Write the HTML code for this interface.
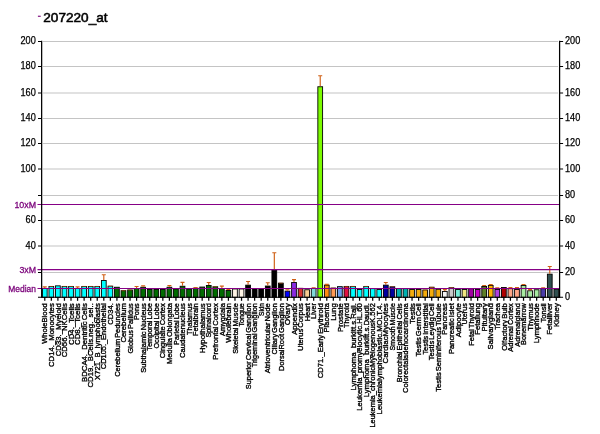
<!DOCTYPE html><html><head><meta charset="utf-8"><title>207220_at</title>
<style>html,body{margin:0;padding:0;background:#fff}body{width:600px;height:434px;overflow:hidden;font-family:"Liberation Sans",sans-serif}svg{display:block;will-change:transform}text{font-family:"Liberation Sans",sans-serif}</style></head><body>
<svg width="600" height="434" viewBox="0 0 600 434">
<rect width="600" height="434" fill="#fff"/>
<rect x="37.9" y="15.7" width="2.8" height="1.1" fill="#780078"/>
<text x="43.3" y="21.85" font-size="13.6" fill="#000" stroke="#000" stroke-width="0.55">207220_at</text>
<line x1="43.0" x2="558.0" y1="272.45" y2="272.45" stroke="#c4c4c4" stroke-width="1.05"/>
<line x1="43.0" x2="558.0" y1="246.00" y2="246.00" stroke="#c4c4c4" stroke-width="1.05"/>
<line x1="43.0" x2="558.0" y1="220.50" y2="220.50" stroke="#c4c4c4" stroke-width="1.05"/>
<line x1="43.0" x2="558.0" y1="195.45" y2="195.45" stroke="#c4c4c4" stroke-width="1.05"/>
<line x1="43.0" x2="558.0" y1="169.00" y2="169.00" stroke="#c4c4c4" stroke-width="1.05"/>
<line x1="43.0" x2="558.0" y1="143.45" y2="143.45" stroke="#c4c4c4" stroke-width="1.05"/>
<line x1="43.0" x2="558.0" y1="118.45" y2="118.45" stroke="#c4c4c4" stroke-width="1.05"/>
<line x1="43.0" x2="558.0" y1="93.00" y2="93.00" stroke="#c4c4c4" stroke-width="1.05"/>
<line x1="43.0" x2="558.0" y1="66.50" y2="66.50" stroke="#c4c4c4" stroke-width="1.05"/>
<line x1="43.0" x2="558.0" y1="41.50" y2="41.50" stroke="#c4c4c4" stroke-width="1.05"/>
<rect x="42.40" y="288.45" width="4.75" height="8.85" fill="#00ffff" stroke="#000" stroke-width="0.9"/>
<path d="M44.78 288.00V286.30M42.78 286.80H46.78" stroke="#cf5f14" stroke-width="1.15" fill="none"/>
<rect x="48.96" y="286.45" width="4.75" height="10.85" fill="#00ffff" stroke="#000" stroke-width="0.9"/>
<path d="M49.34 286.45H53.34" stroke="#cf5f14" stroke-width="1.1" fill="none" opacity="0.5"/>
<rect x="55.52" y="285.85" width="4.75" height="11.45" fill="#00ffff" stroke="#000" stroke-width="0.9"/>
<rect x="62.08" y="286.45" width="4.75" height="10.85" fill="#00ffff" stroke="#000" stroke-width="0.9"/>
<path d="M62.45 286.45H66.45" stroke="#cf5f14" stroke-width="1.1" fill="none" opacity="0.5"/>
<rect x="68.64" y="286.45" width="4.75" height="10.85" fill="#00ffff" stroke="#000" stroke-width="0.9"/>
<path d="M69.01 286.45H73.01" stroke="#cf5f14" stroke-width="1.1" fill="none" opacity="0.5"/>
<rect x="75.20" y="288.45" width="4.75" height="8.85" fill="#00ffff" stroke="#000" stroke-width="0.9"/>
<path d="M77.57 288.00V286.30M75.57 286.80H79.57" stroke="#cf5f14" stroke-width="1.15" fill="none"/>
<rect x="81.75" y="286.45" width="4.75" height="10.85" fill="#00ffff" stroke="#000" stroke-width="0.9"/>
<path d="M82.13 286.45H86.13" stroke="#cf5f14" stroke-width="1.1" fill="none" opacity="0.5"/>
<rect x="88.31" y="286.45" width="4.75" height="10.85" fill="#00ffff" stroke="#000" stroke-width="0.9"/>
<path d="M88.69 286.45H92.69" stroke="#cf5f14" stroke-width="1.1" fill="none" opacity="0.5"/>
<rect x="94.87" y="286.45" width="4.75" height="10.85" fill="#00ffff" stroke="#000" stroke-width="0.9"/>
<path d="M95.24 286.45H99.24" stroke="#cf5f14" stroke-width="1.1" fill="none" opacity="0.5"/>
<rect x="101.43" y="280.55" width="4.75" height="16.75" fill="#00ffff" stroke="#000" stroke-width="0.9"/>
<path d="M103.80 280.10V274.20M101.80 274.70H105.80" stroke="#cf5f14" stroke-width="1.15" fill="none"/>
<rect x="107.99" y="286.15" width="4.75" height="11.15" fill="#00ffff" stroke="#000" stroke-width="0.9"/>
<path d="M108.36 286.15H112.36" stroke="#cf5f14" stroke-width="1.1" fill="none" opacity="0.5"/>
<rect x="114.54" y="287.25" width="4.75" height="10.05" fill="#006c00" stroke="#000" stroke-width="0.9"/>
<rect x="121.10" y="290.65" width="4.75" height="6.65" fill="#006c00" stroke="#000" stroke-width="0.9"/>
<path d="M121.48 290.65H125.48" stroke="#cf5f14" stroke-width="1.1" fill="none" opacity="0.5"/>
<rect x="127.66" y="289.95" width="4.75" height="7.35" fill="#006c00" stroke="#000" stroke-width="0.9"/>
<path d="M128.04 289.95H132.04" stroke="#cf5f14" stroke-width="1.1" fill="none" opacity="0.5"/>
<rect x="134.22" y="288.55" width="4.75" height="8.75" fill="#006c00" stroke="#000" stroke-width="0.9"/>
<path d="M136.59 288.10V286.00M134.59 286.50H138.59" stroke="#cf5f14" stroke-width="1.15" fill="none"/>
<rect x="140.78" y="287.25" width="4.75" height="10.05" fill="#006c00" stroke="#000" stroke-width="0.9"/>
<path d="M143.15 286.80V285.30M141.15 285.80H145.15" stroke="#cf5f14" stroke-width="1.15" fill="none"/>
<rect x="147.34" y="289.55" width="4.75" height="7.75" fill="#006c00" stroke="#000" stroke-width="0.9"/>
<rect x="153.89" y="289.55" width="4.75" height="7.75" fill="#006c00" stroke="#000" stroke-width="0.9"/>
<rect x="160.45" y="289.55" width="4.75" height="7.75" fill="#006c00" stroke="#000" stroke-width="0.9"/>
<rect x="167.01" y="287.25" width="4.75" height="10.05" fill="#006c00" stroke="#000" stroke-width="0.9"/>
<path d="M169.39 286.80V285.10M167.39 285.60H171.39" stroke="#cf5f14" stroke-width="1.15" fill="none"/>
<rect x="173.57" y="288.95" width="4.75" height="8.35" fill="#006c00" stroke="#000" stroke-width="0.9"/>
<rect x="180.13" y="286.25" width="4.75" height="11.05" fill="#006c00" stroke="#000" stroke-width="0.9"/>
<path d="M182.50 285.80V281.90M180.50 282.40H184.50" stroke="#cf5f14" stroke-width="1.15" fill="none"/>
<rect x="186.69" y="288.95" width="4.75" height="8.35" fill="#006c00" stroke="#000" stroke-width="0.9"/>
<rect x="193.24" y="288.25" width="4.75" height="9.05" fill="#006c00" stroke="#000" stroke-width="0.9"/>
<path d="M195.62 287.80V287.00M193.62 287.50H197.62" stroke="#cf5f14" stroke-width="1.15" fill="none"/>
<rect x="199.80" y="287.05" width="4.75" height="10.25" fill="#006c00" stroke="#000" stroke-width="0.9"/>
<rect x="206.36" y="285.45" width="4.75" height="11.85" fill="#006c00" stroke="#000" stroke-width="0.9"/>
<path d="M208.73 285.00V282.00M206.73 282.50H210.73" stroke="#cf5f14" stroke-width="1.15" fill="none"/>
<rect x="212.92" y="286.75" width="4.75" height="10.55" fill="#006c00" stroke="#000" stroke-width="0.9"/>
<path d="M213.29 286.75H217.29" stroke="#cf5f14" stroke-width="1.1" fill="none" opacity="0.5"/>
<rect x="219.48" y="288.65" width="4.75" height="8.65" fill="#006c00" stroke="#000" stroke-width="0.9"/>
<path d="M221.85 288.20V285.60M219.85 286.10H223.85" stroke="#cf5f14" stroke-width="1.15" fill="none"/>
<rect x="226.03" y="290.45" width="4.75" height="6.85" fill="#006c00" stroke="#000" stroke-width="0.9"/>
<path d="M228.41 290.00V288.80M226.41 289.30H230.41" stroke="#cf5f14" stroke-width="1.15" fill="none"/>
<rect x="232.59" y="288.95" width="4.75" height="8.35" fill="#fff5e6" stroke="#000" stroke-width="0.9"/>
<rect x="239.15" y="288.95" width="4.75" height="8.35" fill="#fff5e6" stroke="#000" stroke-width="0.9"/>
<rect x="245.71" y="285.15" width="4.75" height="12.15" fill="#000000" stroke="#000" stroke-width="0.9"/>
<path d="M248.08 284.70V281.00M246.08 281.50H250.08" stroke="#cf5f14" stroke-width="1.15" fill="none"/>
<rect x="252.27" y="288.45" width="4.75" height="8.85" fill="#000000" stroke="#000" stroke-width="0.9"/>
<rect x="258.83" y="288.45" width="4.75" height="8.85" fill="#000000" stroke="#000" stroke-width="0.9"/>
<rect x="265.38" y="286.05" width="4.75" height="11.25" fill="#000000" stroke="#000" stroke-width="0.9"/>
<path d="M267.76 285.60V282.20M265.76 282.70H269.76" stroke="#cf5f14" stroke-width="1.15" fill="none"/>
<rect x="271.94" y="270.05" width="4.75" height="27.25" fill="#000000" stroke="#000" stroke-width="0.9"/>
<path d="M274.32 269.60V252.20M272.32 252.70H276.32" stroke="#cf5f14" stroke-width="1.15" fill="none"/>
<rect x="278.50" y="283.15" width="4.75" height="14.15" fill="#000000" stroke="#000" stroke-width="0.9"/>
<path d="M278.88 283.15H282.88" stroke="#cf5f14" stroke-width="1.1" fill="none" opacity="0.5"/>
<rect x="285.06" y="291.15" width="4.75" height="6.15" fill="#0000ff" stroke="#000" stroke-width="0.9"/>
<path d="M287.43 290.70V289.20M285.43 289.70H289.43" stroke="#cf5f14" stroke-width="1.15" fill="none"/>
<rect x="291.62" y="282.55" width="4.75" height="14.75" fill="#8a2be2" stroke="#000" stroke-width="0.9"/>
<path d="M293.99 282.10V279.10M291.99 279.60H295.99" stroke="#cf5f14" stroke-width="1.15" fill="none"/>
<rect x="298.18" y="288.35" width="4.75" height="8.95" fill="#d62f2f" stroke="#000" stroke-width="0.9"/>
<path d="M298.55 288.35H302.55" stroke="#cf5f14" stroke-width="1.1" fill="none" opacity="0.5"/>
<rect x="304.73" y="289.75" width="4.75" height="7.55" fill="#f7cc90" stroke="#000" stroke-width="0.9"/>
<rect x="311.29" y="288.45" width="4.75" height="8.85" fill="#80d8d8" stroke="#000" stroke-width="0.9"/>
<path d="M313.67 288.00V287.20M311.67 287.70H315.67" stroke="#cf5f14" stroke-width="1.15" fill="none"/>
<rect x="317.85" y="86.75" width="4.75" height="210.55" fill="#7cfc00" stroke="#000" stroke-width="0.9"/>
<path d="M320.22 86.30V75.20M318.22 75.70H322.22" stroke="#cf5f14" stroke-width="1.15" fill="none"/>
<rect x="324.41" y="285.15" width="4.75" height="12.15" fill="#ff8c10" stroke="#000" stroke-width="0.9"/>
<path d="M326.78 284.70V283.80M324.78 284.30H328.78" stroke="#cf5f14" stroke-width="1.15" fill="none"/>
<rect x="330.97" y="288.05" width="4.75" height="9.25" fill="#ff9a55" stroke="#000" stroke-width="0.9"/>
<path d="M331.34 288.05H335.34" stroke="#cf5f14" stroke-width="1.1" fill="none" opacity="0.5"/>
<rect x="337.52" y="286.65" width="4.75" height="10.65" fill="#6a9ef0" stroke="#000" stroke-width="0.9"/>
<rect x="344.08" y="286.45" width="4.75" height="10.85" fill="#e01040" stroke="#000" stroke-width="0.9"/>
<path d="M344.46 286.45H348.46" stroke="#cf5f14" stroke-width="1.1" fill="none" opacity="0.5"/>
<rect x="350.64" y="286.45" width="4.75" height="10.85" fill="#00ffff" stroke="#000" stroke-width="0.9"/>
<path d="M351.02 286.45H355.02" stroke="#cf5f14" stroke-width="1.1" fill="none" opacity="0.5"/>
<rect x="357.20" y="289.55" width="4.75" height="7.75" fill="#00ffff" stroke="#000" stroke-width="0.9"/>
<rect x="363.76" y="286.45" width="4.75" height="10.85" fill="#00ffff" stroke="#000" stroke-width="0.9"/>
<path d="M364.13 286.45H368.13" stroke="#cf5f14" stroke-width="1.1" fill="none" opacity="0.5"/>
<rect x="370.32" y="288.65" width="4.75" height="8.65" fill="#00ffff" stroke="#000" stroke-width="0.9"/>
<rect x="376.87" y="289.55" width="4.75" height="7.75" fill="#00ffff" stroke="#000" stroke-width="0.9"/>
<rect x="383.43" y="285.15" width="4.75" height="12.15" fill="#0000a0" stroke="#000" stroke-width="0.9"/>
<path d="M385.81 284.70V282.00M383.81 282.50H387.81" stroke="#cf5f14" stroke-width="1.15" fill="none"/>
<rect x="389.99" y="286.75" width="4.75" height="10.55" fill="#0000a0" stroke="#000" stroke-width="0.9"/>
<path d="M390.37 286.75H394.37" stroke="#cf5f14" stroke-width="1.1" fill="none" opacity="0.5"/>
<rect x="396.55" y="288.65" width="4.75" height="8.65" fill="#00b0b0" stroke="#000" stroke-width="0.9"/>
<rect x="403.11" y="288.65" width="4.75" height="8.65" fill="#00b0b0" stroke="#000" stroke-width="0.9"/>
<rect x="409.66" y="289.55" width="4.75" height="7.75" fill="#f4ac0c" stroke="#000" stroke-width="0.9"/>
<rect x="416.22" y="289.55" width="4.75" height="7.75" fill="#f4ac0c" stroke="#000" stroke-width="0.9"/>
<rect x="422.78" y="289.95" width="4.75" height="7.35" fill="#f4ac0c" stroke="#000" stroke-width="0.9"/>
<path d="M423.16 289.95H427.16" stroke="#cf5f14" stroke-width="1.1" fill="none" opacity="0.5"/>
<rect x="429.34" y="287.25" width="4.75" height="10.05" fill="#f4ac0c" stroke="#000" stroke-width="0.9"/>
<path d="M429.71 287.25H433.71" stroke="#cf5f14" stroke-width="1.1" fill="none" opacity="0.5"/>
<rect x="435.90" y="289.25" width="4.75" height="8.05" fill="#f4ac0c" stroke="#000" stroke-width="0.9"/>
<rect x="442.46" y="291.45" width="4.75" height="5.85" fill="#f4f4f4" stroke="#000" stroke-width="0.9"/>
<path d="M444.83 291.00V289.10M442.83 289.60H446.83" stroke="#cf5f14" stroke-width="1.15" fill="none"/>
<rect x="449.01" y="287.65" width="4.75" height="9.65" fill="#c8c8c8" stroke="#000" stroke-width="0.9"/>
<path d="M449.39 287.65H453.39" stroke="#cf5f14" stroke-width="1.1" fill="none" opacity="0.5"/>
<rect x="455.57" y="289.55" width="4.75" height="7.75" fill="#78eed8" stroke="#000" stroke-width="0.9"/>
<rect x="462.13" y="289.55" width="4.75" height="7.75" fill="#f0e680" stroke="#000" stroke-width="0.9"/>
<rect x="468.69" y="288.65" width="4.75" height="8.65" fill="#a000a0" stroke="#000" stroke-width="0.9"/>
<rect x="475.25" y="289.55" width="4.75" height="7.75" fill="#c800c8" stroke="#000" stroke-width="0.9"/>
<rect x="481.81" y="286.45" width="4.75" height="10.85" fill="#5d8028" stroke="#000" stroke-width="0.9"/>
<path d="M484.18 286.00V285.00M482.18 285.50H486.18" stroke="#cf5f14" stroke-width="1.15" fill="none"/>
<rect x="488.36" y="285.55" width="4.75" height="11.75" fill="#ffb400" stroke="#000" stroke-width="0.9"/>
<path d="M490.74 285.10V284.10M488.74 284.60H492.74" stroke="#cf5f14" stroke-width="1.15" fill="none"/>
<rect x="494.92" y="289.55" width="4.75" height="7.75" fill="#b040e0" stroke="#000" stroke-width="0.9"/>
<path d="M497.30 289.10V287.20M495.30 287.70H499.30" stroke="#cf5f14" stroke-width="1.15" fill="none"/>
<rect x="501.48" y="287.55" width="4.75" height="9.75" fill="#b00000" stroke="#000" stroke-width="0.9"/>
<rect x="508.04" y="288.65" width="4.75" height="8.65" fill="#ffa585" stroke="#000" stroke-width="0.9"/>
<path d="M510.41 288.20V287.10M508.41 287.60H512.41" stroke="#cf5f14" stroke-width="1.15" fill="none"/>
<rect x="514.60" y="289.55" width="4.75" height="7.75" fill="#ffa585" stroke="#000" stroke-width="0.9"/>
<path d="M516.97 289.10V287.10M514.97 287.60H518.97" stroke="#cf5f14" stroke-width="1.15" fill="none"/>
<rect x="521.15" y="285.45" width="4.75" height="11.85" fill="#a6eaa0" stroke="#000" stroke-width="0.9"/>
<path d="M523.53 285.00V284.00M521.53 284.50H525.53" stroke="#cf5f14" stroke-width="1.15" fill="none"/>
<rect x="527.71" y="290.75" width="4.75" height="6.55" fill="#a6eaa0" stroke="#000" stroke-width="0.9"/>
<path d="M530.09 290.30V289.10M528.09 289.60H532.09" stroke="#cf5f14" stroke-width="1.15" fill="none"/>
<rect x="534.27" y="289.75" width="4.75" height="7.55" fill="#a6eaa0" stroke="#000" stroke-width="0.9"/>
<rect x="540.83" y="288.65" width="4.75" height="8.65" fill="#4a3ca8" stroke="#000" stroke-width="0.9"/>
<path d="M543.20 288.20V287.20M541.20 287.70H545.20" stroke="#cf5f14" stroke-width="1.15" fill="none"/>
<rect x="547.39" y="274.15" width="4.75" height="23.15" fill="#2f4f4f" stroke="#000" stroke-width="0.9"/>
<path d="M549.76 273.70V266.00M547.76 266.50H551.76" stroke="#cf5f14" stroke-width="1.15" fill="none"/>
<rect x="553.95" y="289.25" width="4.75" height="8.05" fill="#2f4f4f" stroke="#000" stroke-width="0.9"/>
<line x1="37.5" x2="559.6" y1="288.45" y2="288.45" stroke="#860086" stroke-width="1.15"/>
<text x="36.0" y="291.55" font-size="9" fill="#7a007a" stroke="#7a007a" stroke-width="0.3" text-anchor="end" textLength="27.7" lengthAdjust="spacingAndGlyphs">Median</text>
<line x1="37.5" x2="559.6" y1="269.55" y2="269.55" stroke="#860086" stroke-width="1.15"/>
<text x="36.0" y="272.65" font-size="9" fill="#7a007a" stroke="#7a007a" stroke-width="0.3" text-anchor="end" textLength="16.6" lengthAdjust="spacingAndGlyphs">3xM</text>
<line x1="37.5" x2="559.6" y1="204.50" y2="204.50" stroke="#860086" stroke-width="1.15"/>
<text x="36.0" y="207.60" font-size="9" fill="#7a007a" stroke="#7a007a" stroke-width="0.3" text-anchor="end" textLength="21.6" lengthAdjust="spacingAndGlyphs">10xM</text>
<path d="M41.65 40.8V297.8M559.6 40.8V297.8" stroke="#000" stroke-width="1.25" fill="none"/>
<path d="M41.1 297.3H560.1" stroke="#000" stroke-width="1.05" fill="none"/>
<path d="M38.0 297.30H41.5M559.6 297.30H563.1" stroke="#000" stroke-width="1.1"/>
<text x="565" y="300.25" font-size="10.1" textLength="5.1" lengthAdjust="spacingAndGlyphs" stroke="#000" stroke-width="0.25">0</text>
<path d="M38.0 272.45H41.5M559.6 272.45H563.1" stroke="#000" stroke-width="1.1"/>
<text x="565" y="275.40" font-size="10.1" textLength="10.2" lengthAdjust="spacingAndGlyphs" stroke="#000" stroke-width="0.25">20</text>
<path d="M38.0 246.00H41.5M559.6 246.00H563.1" stroke="#000" stroke-width="1.1"/>
<text x="35.8" y="248.95" font-size="10.1" text-anchor="end" textLength="10.2" lengthAdjust="spacingAndGlyphs" stroke="#000" stroke-width="0.25">40</text>
<text x="565" y="248.95" font-size="10.1" textLength="10.2" lengthAdjust="spacingAndGlyphs" stroke="#000" stroke-width="0.25">40</text>
<path d="M38.0 220.50H41.5M559.6 220.50H563.1" stroke="#000" stroke-width="1.1"/>
<text x="35.8" y="223.45" font-size="10.1" text-anchor="end" textLength="10.2" lengthAdjust="spacingAndGlyphs" stroke="#000" stroke-width="0.25">60</text>
<text x="565" y="223.45" font-size="10.1" textLength="10.2" lengthAdjust="spacingAndGlyphs" stroke="#000" stroke-width="0.25">60</text>
<path d="M38.0 195.45H41.5M559.6 195.45H563.1" stroke="#000" stroke-width="1.1"/>
<text x="565" y="198.40" font-size="10.1" textLength="10.2" lengthAdjust="spacingAndGlyphs" stroke="#000" stroke-width="0.25">80</text>
<path d="M38.0 169.00H41.5M559.6 169.00H563.1" stroke="#000" stroke-width="1.1"/>
<text x="35.8" y="171.95" font-size="10.1" text-anchor="end" textLength="15.3" lengthAdjust="spacingAndGlyphs" stroke="#000" stroke-width="0.25">100</text>
<text x="565" y="171.95" font-size="10.1" textLength="15.3" lengthAdjust="spacingAndGlyphs" stroke="#000" stroke-width="0.25">100</text>
<path d="M38.0 143.45H41.5M559.6 143.45H563.1" stroke="#000" stroke-width="1.1"/>
<text x="35.8" y="146.40" font-size="10.1" text-anchor="end" textLength="15.3" lengthAdjust="spacingAndGlyphs" stroke="#000" stroke-width="0.25">120</text>
<text x="565" y="146.40" font-size="10.1" textLength="15.3" lengthAdjust="spacingAndGlyphs" stroke="#000" stroke-width="0.25">120</text>
<path d="M38.0 118.45H41.5M559.6 118.45H563.1" stroke="#000" stroke-width="1.1"/>
<text x="35.8" y="121.40" font-size="10.1" text-anchor="end" textLength="15.3" lengthAdjust="spacingAndGlyphs" stroke="#000" stroke-width="0.25">140</text>
<text x="565" y="121.40" font-size="10.1" textLength="15.3" lengthAdjust="spacingAndGlyphs" stroke="#000" stroke-width="0.25">140</text>
<path d="M38.0 93.00H41.5M559.6 93.00H563.1" stroke="#000" stroke-width="1.1"/>
<text x="35.8" y="95.95" font-size="10.1" text-anchor="end" textLength="15.3" lengthAdjust="spacingAndGlyphs" stroke="#000" stroke-width="0.25">160</text>
<text x="565" y="95.95" font-size="10.1" textLength="15.3" lengthAdjust="spacingAndGlyphs" stroke="#000" stroke-width="0.25">160</text>
<path d="M38.0 66.50H41.5M559.6 66.50H563.1" stroke="#000" stroke-width="1.1"/>
<text x="35.8" y="69.45" font-size="10.1" text-anchor="end" textLength="15.3" lengthAdjust="spacingAndGlyphs" stroke="#000" stroke-width="0.25">180</text>
<text x="565" y="69.45" font-size="10.1" textLength="15.3" lengthAdjust="spacingAndGlyphs" stroke="#000" stroke-width="0.25">180</text>
<path d="M38.0 41.50H41.5M559.6 41.50H563.1" stroke="#000" stroke-width="1.1"/>
<text x="35.8" y="44.45" font-size="10.1" text-anchor="end" textLength="15.3" lengthAdjust="spacingAndGlyphs" stroke="#000" stroke-width="0.25">200</text>
<text x="565" y="44.45" font-size="10.1" textLength="15.3" lengthAdjust="spacingAndGlyphs" stroke="#000" stroke-width="0.25">200</text>
<line x1="44.78" x2="44.78" y1="297.3" y2="300.8" stroke="#000" stroke-width="1.25"/>
<text transform="translate(47.43 303.2) rotate(-90)" font-size="7.9" word-spacing="-1.1" text-anchor="end" textLength="40.6" lengthAdjust="spacingAndGlyphs" stroke="#000" stroke-width="0.35">WholeBlood</text>
<line x1="51.34" x2="51.34" y1="297.3" y2="300.8" stroke="#000" stroke-width="1.25"/>
<text transform="translate(53.99 303.2) rotate(-90)" font-size="7.9" word-spacing="-1.1" text-anchor="end" textLength="63.8" lengthAdjust="spacingAndGlyphs" stroke="#000" stroke-width="0.35">CD14._Monocytes</text>
<line x1="57.90" x2="57.90" y1="297.3" y2="300.8" stroke="#000" stroke-width="1.25"/>
<text transform="translate(60.55 303.2) rotate(-90)" font-size="7.9" word-spacing="-1.1" text-anchor="end" textLength="53.1" lengthAdjust="spacingAndGlyphs" stroke="#000" stroke-width="0.35">CD33._Myeloid</text>
<line x1="64.45" x2="64.45" y1="297.3" y2="300.8" stroke="#000" stroke-width="1.25"/>
<text transform="translate(67.10 303.2) rotate(-90)" font-size="7.9" word-spacing="-1.1" text-anchor="end" textLength="54.1" lengthAdjust="spacingAndGlyphs" stroke="#000" stroke-width="0.35">CD56._NKCells</text>
<line x1="71.01" x2="71.01" y1="297.3" y2="300.8" stroke="#000" stroke-width="1.25"/>
<text transform="translate(73.66 303.2) rotate(-90)" font-size="7.9" word-spacing="-1.1" text-anchor="end" textLength="41.8" lengthAdjust="spacingAndGlyphs" stroke="#000" stroke-width="0.35">CD4._Tcells</text>
<line x1="77.57" x2="77.57" y1="297.3" y2="300.8" stroke="#000" stroke-width="1.25"/>
<text transform="translate(80.22 303.2) rotate(-90)" font-size="7.9" word-spacing="-1.1" text-anchor="end" textLength="41.8" lengthAdjust="spacingAndGlyphs" stroke="#000" stroke-width="0.35">CD8._Tcells</text>
<line x1="84.13" x2="84.13" y1="297.3" y2="300.8" stroke="#000" stroke-width="1.25"/>
<text transform="translate(86.78 303.2) rotate(-90)" font-size="7.9" word-spacing="-1.1" text-anchor="end" textLength="78.7" lengthAdjust="spacingAndGlyphs" stroke="#000" stroke-width="0.35">BDCA4._Dentritic Cells</text>
<line x1="90.69" x2="90.69" y1="297.3" y2="300.8" stroke="#000" stroke-width="1.25"/>
<text transform="translate(93.34 303.2) rotate(-90)" font-size="7.9" word-spacing="-1.1" text-anchor="end" textLength="84.3" lengthAdjust="spacingAndGlyphs" stroke="#000" stroke-width="0.35">CD19._BCells.neg._sel..</text>
<line x1="97.24" x2="97.24" y1="297.3" y2="300.8" stroke="#000" stroke-width="1.25"/>
<text transform="translate(99.89 303.2) rotate(-90)" font-size="7.9" word-spacing="-1.1" text-anchor="end" textLength="76.7" lengthAdjust="spacingAndGlyphs" stroke="#000" stroke-width="0.35">X721_B_lymphoblasts</text>
<line x1="103.80" x2="103.80" y1="297.3" y2="300.8" stroke="#000" stroke-width="1.25"/>
<text transform="translate(106.45 303.2) rotate(-90)" font-size="7.9" word-spacing="-1.1" text-anchor="end" textLength="66.0" lengthAdjust="spacingAndGlyphs" stroke="#000" stroke-width="0.35">CD105._Endothelial</text>
<line x1="110.36" x2="110.36" y1="297.3" y2="300.8" stroke="#000" stroke-width="1.25"/>
<text transform="translate(113.01 303.2) rotate(-90)" font-size="7.9" word-spacing="-1.1" text-anchor="end" textLength="21.5" lengthAdjust="spacingAndGlyphs" stroke="#000" stroke-width="0.35">CD34.</text>
<line x1="116.92" x2="116.92" y1="297.3" y2="300.8" stroke="#000" stroke-width="1.25"/>
<text transform="translate(119.57 303.2) rotate(-90)" font-size="7.9" word-spacing="-1.1" text-anchor="end" textLength="73.6" lengthAdjust="spacingAndGlyphs" stroke="#000" stroke-width="0.35">Cerebellum Peduncles</text>
<line x1="123.48" x2="123.48" y1="297.3" y2="300.8" stroke="#000" stroke-width="1.25"/>
<text transform="translate(126.13 303.2) rotate(-90)" font-size="7.9" word-spacing="-1.1" text-anchor="end" textLength="39.4" lengthAdjust="spacingAndGlyphs" stroke="#000" stroke-width="0.35">Cerebellum</text>
<line x1="130.04" x2="130.04" y1="297.3" y2="300.8" stroke="#000" stroke-width="1.25"/>
<text transform="translate(132.69 303.2) rotate(-90)" font-size="7.9" word-spacing="-1.1" text-anchor="end" textLength="50.2" lengthAdjust="spacingAndGlyphs" stroke="#000" stroke-width="0.35">Globus Pallidus</text>
<line x1="136.59" x2="136.59" y1="297.3" y2="300.8" stroke="#000" stroke-width="1.25"/>
<text transform="translate(139.24 303.2) rotate(-90)" font-size="7.9" word-spacing="-1.1" text-anchor="end" textLength="16.9" lengthAdjust="spacingAndGlyphs" stroke="#000" stroke-width="0.35">Pons</text>
<line x1="143.15" x2="143.15" y1="297.3" y2="300.8" stroke="#000" stroke-width="1.25"/>
<text transform="translate(145.80 303.2) rotate(-90)" font-size="7.9" word-spacing="-1.1" text-anchor="end" textLength="69.6" lengthAdjust="spacingAndGlyphs" stroke="#000" stroke-width="0.35">Subthalamic Nucleus</text>
<line x1="149.71" x2="149.71" y1="297.3" y2="300.8" stroke="#000" stroke-width="1.25"/>
<text transform="translate(152.36 303.2) rotate(-90)" font-size="7.9" word-spacing="-1.1" text-anchor="end" textLength="47.5" lengthAdjust="spacingAndGlyphs" stroke="#000" stroke-width="0.35">Temporal Lobe</text>
<line x1="156.27" x2="156.27" y1="297.3" y2="300.8" stroke="#000" stroke-width="1.25"/>
<text transform="translate(158.92 303.2) rotate(-90)" font-size="7.9" word-spacing="-1.1" text-anchor="end" textLength="45.4" lengthAdjust="spacingAndGlyphs" stroke="#000" stroke-width="0.35">Occipital Lobe</text>
<line x1="162.83" x2="162.83" y1="297.3" y2="300.8" stroke="#000" stroke-width="1.25"/>
<text transform="translate(165.48 303.2) rotate(-90)" font-size="7.9" word-spacing="-1.1" text-anchor="end" textLength="55.0" lengthAdjust="spacingAndGlyphs" stroke="#000" stroke-width="0.35">Cingulate Cortex</text>
<line x1="169.39" x2="169.39" y1="297.3" y2="300.8" stroke="#000" stroke-width="1.25"/>
<text transform="translate(172.04 303.2) rotate(-90)" font-size="7.9" word-spacing="-1.1" text-anchor="end" textLength="60.7" lengthAdjust="spacingAndGlyphs" stroke="#000" stroke-width="0.35">Medulla Oblongata</text>
<line x1="175.94" x2="175.94" y1="297.3" y2="300.8" stroke="#000" stroke-width="1.25"/>
<text transform="translate(178.59 303.2) rotate(-90)" font-size="7.9" word-spacing="-1.1" text-anchor="end" textLength="41.7" lengthAdjust="spacingAndGlyphs" stroke="#000" stroke-width="0.35">Parietal Lobe</text>
<line x1="182.50" x2="182.50" y1="297.3" y2="300.8" stroke="#000" stroke-width="1.25"/>
<text transform="translate(185.15 303.2) rotate(-90)" font-size="7.9" word-spacing="-1.1" text-anchor="end" textLength="54.8" lengthAdjust="spacingAndGlyphs" stroke="#000" stroke-width="0.35">Caudatenucleus</text>
<line x1="189.06" x2="189.06" y1="297.3" y2="300.8" stroke="#000" stroke-width="1.25"/>
<text transform="translate(191.71 303.2) rotate(-90)" font-size="7.9" word-spacing="-1.1" text-anchor="end" textLength="31.8" lengthAdjust="spacingAndGlyphs" stroke="#000" stroke-width="0.35">Thalamus</text>
<line x1="195.62" x2="195.62" y1="297.3" y2="300.8" stroke="#000" stroke-width="1.25"/>
<text transform="translate(198.27 303.2) rotate(-90)" font-size="7.9" word-spacing="-1.1" text-anchor="end" textLength="32.8" lengthAdjust="spacingAndGlyphs" stroke="#000" stroke-width="0.35">Fetalbrain</text>
<line x1="202.18" x2="202.18" y1="297.3" y2="300.8" stroke="#000" stroke-width="1.25"/>
<text transform="translate(204.83 303.2) rotate(-90)" font-size="7.9" word-spacing="-1.1" text-anchor="end" textLength="50.0" lengthAdjust="spacingAndGlyphs" stroke="#000" stroke-width="0.35">Hypothalamus</text>
<line x1="208.73" x2="208.73" y1="297.3" y2="300.8" stroke="#000" stroke-width="1.25"/>
<text transform="translate(211.38 303.2) rotate(-90)" font-size="7.9" word-spacing="-1.1" text-anchor="end" textLength="34.4" lengthAdjust="spacingAndGlyphs" stroke="#000" stroke-width="0.35">Spinalcord</text>
<line x1="215.29" x2="215.29" y1="297.3" y2="300.8" stroke="#000" stroke-width="1.25"/>
<text transform="translate(217.94 303.2) rotate(-90)" font-size="7.9" word-spacing="-1.1" text-anchor="end" textLength="56.5" lengthAdjust="spacingAndGlyphs" stroke="#000" stroke-width="0.35">Prefrontal Cortex</text>
<line x1="221.85" x2="221.85" y1="297.3" y2="300.8" stroke="#000" stroke-width="1.25"/>
<text transform="translate(224.50 303.2) rotate(-90)" font-size="7.9" word-spacing="-1.1" text-anchor="end" textLength="32.8" lengthAdjust="spacingAndGlyphs" stroke="#000" stroke-width="0.35">Amygdala</text>
<line x1="228.41" x2="228.41" y1="297.3" y2="300.8" stroke="#000" stroke-width="1.25"/>
<text transform="translate(231.06 303.2) rotate(-90)" font-size="7.9" word-spacing="-1.1" text-anchor="end" textLength="39.6" lengthAdjust="spacingAndGlyphs" stroke="#000" stroke-width="0.35">Wholebrain</text>
<line x1="234.97" x2="234.97" y1="297.3" y2="300.8" stroke="#000" stroke-width="1.25"/>
<text transform="translate(237.62 303.2) rotate(-90)" font-size="7.9" word-spacing="-1.1" text-anchor="end" textLength="50.5" lengthAdjust="spacingAndGlyphs" stroke="#000" stroke-width="0.35">Skeletal Muscle</text>
<line x1="241.53" x2="241.53" y1="297.3" y2="300.8" stroke="#000" stroke-width="1.25"/>
<text transform="translate(244.18 303.2) rotate(-90)" font-size="7.9" word-spacing="-1.1" text-anchor="end" textLength="23.4" lengthAdjust="spacingAndGlyphs" stroke="#000" stroke-width="0.35">Tongue</text>
<line x1="248.08" x2="248.08" y1="297.3" y2="300.8" stroke="#000" stroke-width="1.25"/>
<text transform="translate(250.73 303.2) rotate(-90)" font-size="7.9" word-spacing="-1.1" text-anchor="end" textLength="86.0" lengthAdjust="spacingAndGlyphs" stroke="#000" stroke-width="0.35">Superior Cervical Ganglion</text>
<line x1="254.64" x2="254.64" y1="297.3" y2="300.8" stroke="#000" stroke-width="1.25"/>
<text transform="translate(257.29 303.2) rotate(-90)" font-size="7.9" word-spacing="-1.1" text-anchor="end" textLength="64.1" lengthAdjust="spacingAndGlyphs" stroke="#000" stroke-width="0.35">Trigeminal Ganglion</text>
<line x1="261.20" x2="261.20" y1="297.3" y2="300.8" stroke="#000" stroke-width="1.25"/>
<text transform="translate(263.85 303.2) rotate(-90)" font-size="7.9" word-spacing="-1.1" text-anchor="end" textLength="12.7" lengthAdjust="spacingAndGlyphs" stroke="#000" stroke-width="0.35">Skin</text>
<line x1="267.76" x2="267.76" y1="297.3" y2="300.8" stroke="#000" stroke-width="1.25"/>
<text transform="translate(270.41 303.2) rotate(-90)" font-size="7.9" word-spacing="-1.1" text-anchor="end" textLength="70.1" lengthAdjust="spacingAndGlyphs" stroke="#000" stroke-width="0.35">Atrioventricular Node</text>
<line x1="274.32" x2="274.32" y1="297.3" y2="300.8" stroke="#000" stroke-width="1.25"/>
<text transform="translate(276.97 303.2) rotate(-90)" font-size="7.9" word-spacing="-1.1" text-anchor="end" textLength="51.3" lengthAdjust="spacingAndGlyphs" stroke="#000" stroke-width="0.35">Ciliary Ganglion</text>
<line x1="280.88" x2="280.88" y1="297.3" y2="300.8" stroke="#000" stroke-width="1.25"/>
<text transform="translate(283.53 303.2) rotate(-90)" font-size="7.9" word-spacing="-1.1" text-anchor="end" textLength="67.8" lengthAdjust="spacingAndGlyphs" stroke="#000" stroke-width="0.35">DorsalRoot Ganglion</text>
<line x1="287.43" x2="287.43" y1="297.3" y2="300.8" stroke="#000" stroke-width="1.25"/>
<text transform="translate(290.08 303.2) rotate(-90)" font-size="7.9" word-spacing="-1.1" text-anchor="end" textLength="22.0" lengthAdjust="spacingAndGlyphs" stroke="#000" stroke-width="0.35">Ovary</text>
<line x1="293.99" x2="293.99" y1="297.3" y2="300.8" stroke="#000" stroke-width="1.25"/>
<text transform="translate(296.64 303.2) rotate(-90)" font-size="7.9" word-spacing="-1.1" text-anchor="end" textLength="31.5" lengthAdjust="spacingAndGlyphs" stroke="#000" stroke-width="0.35">Appendix</text>
<line x1="300.55" x2="300.55" y1="297.3" y2="300.8" stroke="#000" stroke-width="1.25"/>
<text transform="translate(303.20 303.2) rotate(-90)" font-size="7.9" word-spacing="-1.1" text-anchor="end" textLength="47.8" lengthAdjust="spacingAndGlyphs" stroke="#000" stroke-width="0.35">Uterus Corpus</text>
<line x1="307.11" x2="307.11" y1="297.3" y2="300.8" stroke="#000" stroke-width="1.25"/>
<text transform="translate(309.76 303.2) rotate(-90)" font-size="7.9" word-spacing="-1.1" text-anchor="end" textLength="18.1" lengthAdjust="spacingAndGlyphs" stroke="#000" stroke-width="0.35">Heart</text>
<line x1="313.67" x2="313.67" y1="297.3" y2="300.8" stroke="#000" stroke-width="1.25"/>
<text transform="translate(316.32 303.2) rotate(-90)" font-size="7.9" word-spacing="-1.1" text-anchor="end" textLength="15.7" lengthAdjust="spacingAndGlyphs" stroke="#000" stroke-width="0.35">Liver</text>
<line x1="320.22" x2="320.22" y1="297.3" y2="300.8" stroke="#000" stroke-width="1.25"/>
<text transform="translate(322.87 303.2) rotate(-90)" font-size="7.9" word-spacing="-1.1" text-anchor="end" textLength="75.1" lengthAdjust="spacingAndGlyphs" stroke="#000" stroke-width="0.35">CD71._Early Erythroid</text>
<line x1="326.78" x2="326.78" y1="297.3" y2="300.8" stroke="#000" stroke-width="1.25"/>
<text transform="translate(329.43 303.2) rotate(-90)" font-size="7.9" word-spacing="-1.1" text-anchor="end" textLength="29.2" lengthAdjust="spacingAndGlyphs" stroke="#000" stroke-width="0.35">Placenta</text>
<line x1="333.34" x2="333.34" y1="297.3" y2="300.8" stroke="#000" stroke-width="1.25"/>
<text transform="translate(335.99 303.2) rotate(-90)" font-size="7.9" word-spacing="-1.1" text-anchor="end" textLength="17.6" lengthAdjust="spacingAndGlyphs" stroke="#000" stroke-width="0.35">Lung</text>
<line x1="339.90" x2="339.90" y1="297.3" y2="300.8" stroke="#000" stroke-width="1.25"/>
<text transform="translate(342.55 303.2) rotate(-90)" font-size="7.9" word-spacing="-1.1" text-anchor="end" textLength="28.7" lengthAdjust="spacingAndGlyphs" stroke="#000" stroke-width="0.35">Prostate</text>
<line x1="346.46" x2="346.46" y1="297.3" y2="300.8" stroke="#000" stroke-width="1.25"/>
<text transform="translate(349.11 303.2) rotate(-90)" font-size="7.9" word-spacing="-1.1" text-anchor="end" textLength="24.8" lengthAdjust="spacingAndGlyphs" stroke="#000" stroke-width="0.35">Thyroid</text>
<line x1="353.02" x2="353.02" y1="297.3" y2="300.8" stroke="#000" stroke-width="1.25"/>
<text transform="translate(355.67 303.2) rotate(-90)" font-size="7.9" word-spacing="-1.1" text-anchor="end" textLength="87.3" lengthAdjust="spacingAndGlyphs" stroke="#000" stroke-width="0.35">Lymphoma_burkitt.s.Raji.</text>
<line x1="359.57" x2="359.57" y1="297.3" y2="300.8" stroke="#000" stroke-width="1.25"/>
<text transform="translate(362.22 303.2) rotate(-90)" font-size="7.9" word-spacing="-1.1" text-anchor="end" textLength="107.6" lengthAdjust="spacingAndGlyphs" stroke="#000" stroke-width="0.35">Leukemia_promyelocytic.HL.60</text>
<line x1="366.13" x2="366.13" y1="297.3" y2="300.8" stroke="#000" stroke-width="1.25"/>
<text transform="translate(368.78 303.2) rotate(-90)" font-size="7.9" word-spacing="-1.1" text-anchor="end" textLength="94.0" lengthAdjust="spacingAndGlyphs" stroke="#000" stroke-width="0.35">Lymphoma_burkitt.s.Daudi.</text>
<line x1="372.69" x2="372.69" y1="297.3" y2="300.8" stroke="#000" stroke-width="1.25"/>
<text transform="translate(375.34 303.2) rotate(-90)" font-size="7.9" word-spacing="-1.1" text-anchor="end" textLength="124.4" lengthAdjust="spacingAndGlyphs" stroke="#000" stroke-width="0.35">Leukemia_chronicMyelogenousK.562</text>
<line x1="379.25" x2="379.25" y1="297.3" y2="300.8" stroke="#000" stroke-width="1.25"/>
<text transform="translate(381.90 303.2) rotate(-90)" font-size="7.9" word-spacing="-1.1" text-anchor="end" textLength="111.2" lengthAdjust="spacingAndGlyphs" stroke="#000" stroke-width="0.35">Leukemialymphoblastic.MOLT.4.</text>
<line x1="385.81" x2="385.81" y1="297.3" y2="300.8" stroke="#000" stroke-width="1.25"/>
<text transform="translate(388.46 303.2) rotate(-90)" font-size="7.9" word-spacing="-1.1" text-anchor="end" textLength="60.3" lengthAdjust="spacingAndGlyphs" stroke="#000" stroke-width="0.35">CardiacMyocytes</text>
<line x1="392.37" x2="392.37" y1="297.3" y2="300.8" stroke="#000" stroke-width="1.25"/>
<text transform="translate(395.02 303.2) rotate(-90)" font-size="7.9" word-spacing="-1.1" text-anchor="end" textLength="47.3" lengthAdjust="spacingAndGlyphs" stroke="#000" stroke-width="0.35">Smooth Muscle</text>
<line x1="398.92" x2="398.92" y1="297.3" y2="300.8" stroke="#000" stroke-width="1.25"/>
<text transform="translate(401.57 303.2) rotate(-90)" font-size="7.9" word-spacing="-1.1" text-anchor="end" textLength="79.0" lengthAdjust="spacingAndGlyphs" stroke="#000" stroke-width="0.35">Bronchial Epithelial Cells</text>
<line x1="405.48" x2="405.48" y1="297.3" y2="300.8" stroke="#000" stroke-width="1.25"/>
<text transform="translate(408.13 303.2) rotate(-90)" font-size="7.9" word-spacing="-1.1" text-anchor="end" textLength="89.7" lengthAdjust="spacingAndGlyphs" stroke="#000" stroke-width="0.35">Colorectaladenocarcinoma</text>
<line x1="412.04" x2="412.04" y1="297.3" y2="300.8" stroke="#000" stroke-width="1.25"/>
<text transform="translate(414.69 303.2) rotate(-90)" font-size="7.9" word-spacing="-1.1" text-anchor="end" textLength="20.7" lengthAdjust="spacingAndGlyphs" stroke="#000" stroke-width="0.35">Testis</text>
<line x1="418.60" x2="418.60" y1="297.3" y2="300.8" stroke="#000" stroke-width="1.25"/>
<text transform="translate(421.25 303.2) rotate(-90)" font-size="7.9" word-spacing="-1.1" text-anchor="end" textLength="53.3" lengthAdjust="spacingAndGlyphs" stroke="#000" stroke-width="0.35">Testis Germ Cell</text>
<line x1="425.16" x2="425.16" y1="297.3" y2="300.8" stroke="#000" stroke-width="1.25"/>
<text transform="translate(427.81 303.2) rotate(-90)" font-size="7.9" word-spacing="-1.1" text-anchor="end" textLength="51.4" lengthAdjust="spacingAndGlyphs" stroke="#000" stroke-width="0.35">Testis Interstitial</text>
<line x1="431.71" x2="431.71" y1="297.3" y2="300.8" stroke="#000" stroke-width="1.25"/>
<text transform="translate(434.36 303.2) rotate(-90)" font-size="7.9" word-spacing="-1.1" text-anchor="end" textLength="57.0" lengthAdjust="spacingAndGlyphs" stroke="#000" stroke-width="0.35">Testis Leydig Cell</text>
<line x1="438.27" x2="438.27" y1="297.3" y2="300.8" stroke="#000" stroke-width="1.25"/>
<text transform="translate(440.92 303.2) rotate(-90)" font-size="7.9" word-spacing="-1.1" text-anchor="end" textLength="88.5" lengthAdjust="spacingAndGlyphs" stroke="#000" stroke-width="0.35">Testis Seminiferous Tubule</text>
<line x1="444.83" x2="444.83" y1="297.3" y2="300.8" stroke="#000" stroke-width="1.25"/>
<text transform="translate(447.48 303.2) rotate(-90)" font-size="7.9" word-spacing="-1.1" text-anchor="end" textLength="31.6" lengthAdjust="spacingAndGlyphs" stroke="#000" stroke-width="0.35">Pancreas</text>
<line x1="451.39" x2="451.39" y1="297.3" y2="300.8" stroke="#000" stroke-width="1.25"/>
<text transform="translate(454.04 303.2) rotate(-90)" font-size="7.9" word-spacing="-1.1" text-anchor="end" textLength="50.9" lengthAdjust="spacingAndGlyphs" stroke="#000" stroke-width="0.35">Pancreatic Islet</text>
<line x1="457.95" x2="457.95" y1="297.3" y2="300.8" stroke="#000" stroke-width="1.25"/>
<text transform="translate(460.60 303.2) rotate(-90)" font-size="7.9" word-spacing="-1.1" text-anchor="end" textLength="34.0" lengthAdjust="spacingAndGlyphs" stroke="#000" stroke-width="0.35">Adipocyte</text>
<line x1="464.51" x2="464.51" y1="297.3" y2="300.8" stroke="#000" stroke-width="1.25"/>
<text transform="translate(467.16 303.2) rotate(-90)" font-size="7.9" word-spacing="-1.1" text-anchor="end" textLength="21.4" lengthAdjust="spacingAndGlyphs" stroke="#000" stroke-width="0.35">Uterus</text>
<line x1="471.06" x2="471.06" y1="297.3" y2="300.8" stroke="#000" stroke-width="1.25"/>
<text transform="translate(473.71 303.2) rotate(-90)" font-size="7.9" word-spacing="-1.1" text-anchor="end" textLength="42.5" lengthAdjust="spacingAndGlyphs" stroke="#000" stroke-width="0.35">Fetal Thyroid</text>
<line x1="477.62" x2="477.62" y1="297.3" y2="300.8" stroke="#000" stroke-width="1.25"/>
<text transform="translate(480.27 303.2) rotate(-90)" font-size="7.9" word-spacing="-1.1" text-anchor="end" textLength="31.6" lengthAdjust="spacingAndGlyphs" stroke="#000" stroke-width="0.35">Fetallung</text>
<line x1="484.18" x2="484.18" y1="297.3" y2="300.8" stroke="#000" stroke-width="1.25"/>
<text transform="translate(486.83 303.2) rotate(-90)" font-size="7.9" word-spacing="-1.1" text-anchor="end" textLength="28.3" lengthAdjust="spacingAndGlyphs" stroke="#000" stroke-width="0.35">Pituitary</text>
<line x1="490.74" x2="490.74" y1="297.3" y2="300.8" stroke="#000" stroke-width="1.25"/>
<text transform="translate(493.39 303.2) rotate(-90)" font-size="7.9" word-spacing="-1.1" text-anchor="end" textLength="46.3" lengthAdjust="spacingAndGlyphs" stroke="#000" stroke-width="0.35">Salivarygland</text>
<line x1="497.30" x2="497.30" y1="297.3" y2="300.8" stroke="#000" stroke-width="1.25"/>
<text transform="translate(499.95 303.2) rotate(-90)" font-size="7.9" word-spacing="-1.1" text-anchor="end" textLength="26.5" lengthAdjust="spacingAndGlyphs" stroke="#000" stroke-width="0.35">Trachea</text>
<line x1="503.86" x2="503.86" y1="297.3" y2="300.8" stroke="#000" stroke-width="1.25"/>
<text transform="translate(506.51 303.2) rotate(-90)" font-size="7.9" word-spacing="-1.1" text-anchor="end" textLength="47.5" lengthAdjust="spacingAndGlyphs" stroke="#000" stroke-width="0.35">Olfactory Bulb</text>
<line x1="510.41" x2="510.41" y1="297.3" y2="300.8" stroke="#000" stroke-width="1.25"/>
<text transform="translate(513.06 303.2) rotate(-90)" font-size="7.9" word-spacing="-1.1" text-anchor="end" textLength="48.5" lengthAdjust="spacingAndGlyphs" stroke="#000" stroke-width="0.35">Adrenal Cortex</text>
<line x1="516.97" x2="516.97" y1="297.3" y2="300.8" stroke="#000" stroke-width="1.25"/>
<text transform="translate(519.62 303.2) rotate(-90)" font-size="7.9" word-spacing="-1.1" text-anchor="end" textLength="43.6" lengthAdjust="spacingAndGlyphs" stroke="#000" stroke-width="0.35">Adrenalgland</text>
<line x1="523.53" x2="523.53" y1="297.3" y2="300.8" stroke="#000" stroke-width="1.25"/>
<text transform="translate(526.18 303.2) rotate(-90)" font-size="7.9" word-spacing="-1.1" text-anchor="end" textLength="41.8" lengthAdjust="spacingAndGlyphs" stroke="#000" stroke-width="0.35">Bonemarrow</text>
<line x1="530.09" x2="530.09" y1="297.3" y2="300.8" stroke="#000" stroke-width="1.25"/>
<text transform="translate(532.74 303.2) rotate(-90)" font-size="7.9" word-spacing="-1.1" text-anchor="end" textLength="27.5" lengthAdjust="spacingAndGlyphs" stroke="#000" stroke-width="0.35">Thymus</text>
<line x1="536.65" x2="536.65" y1="297.3" y2="300.8" stroke="#000" stroke-width="1.25"/>
<text transform="translate(539.30 303.2) rotate(-90)" font-size="7.9" word-spacing="-1.1" text-anchor="end" textLength="40.0" lengthAdjust="spacingAndGlyphs" stroke="#000" stroke-width="0.35">Lymphnode</text>
<line x1="543.20" x2="543.20" y1="297.3" y2="300.8" stroke="#000" stroke-width="1.25"/>
<text transform="translate(545.85 303.2) rotate(-90)" font-size="7.9" word-spacing="-1.1" text-anchor="end" textLength="19.3" lengthAdjust="spacingAndGlyphs" stroke="#000" stroke-width="0.35">Tonsil</text>
<line x1="549.76" x2="549.76" y1="297.3" y2="300.8" stroke="#000" stroke-width="1.25"/>
<text transform="translate(552.41 303.2) rotate(-90)" font-size="7.9" word-spacing="-1.1" text-anchor="end" textLength="31.6" lengthAdjust="spacingAndGlyphs" stroke="#000" stroke-width="0.35">Fetalliver</text>
<line x1="556.32" x2="556.32" y1="297.3" y2="300.8" stroke="#000" stroke-width="1.25"/>
<text transform="translate(558.97 303.2) rotate(-90)" font-size="7.9" word-spacing="-1.1" text-anchor="end" textLength="23.8" lengthAdjust="spacingAndGlyphs" stroke="#000" stroke-width="0.35">Kidney</text>
</svg></body></html>
